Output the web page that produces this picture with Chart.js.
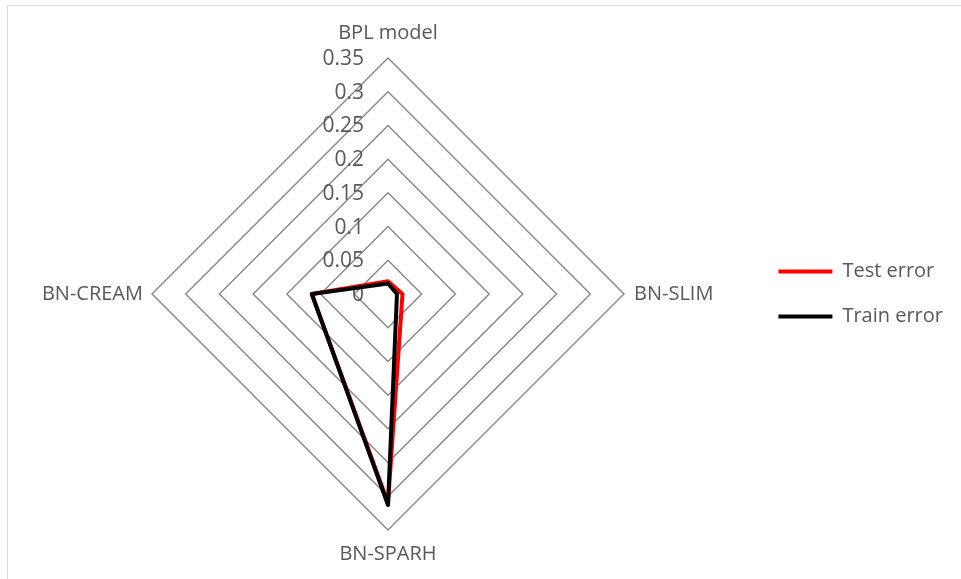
<!DOCTYPE html>
<html>
<head>
<meta charset="utf-8">
<script src="https://cdn.jsdelivr.net/npm/chart.js@4/dist/chart.umd.min.js"></script>
<style>
  html, body { margin: 0; padding: 0; background: #ffffff; }
  #wrap { position: relative; width: 961px; height: 579px; overflow: hidden; }
  #frame {
    position: absolute; left: 7px; top: 5px; right: -2px; bottom: -2px;
    border-left: 1px solid #d9d9d9; border-top: 1px solid #d9d9d9;
    pointer-events: none;
  }
  canvas { position: absolute; left: 0; top: 0; }
</style>
</head>
<body>
<div id="wrap">
  <canvas id="radar" width="961" height="579"></canvas>
  <div id="frame"></div>
</div>
<script>
// Models compared on each spoke of the radar
const categories = ['BPL model', 'BN-SLIM', 'BN-SPARH', 'BN-CREAM'];

// Error rates per model
const testError  = [0.019, 0.0215, 0.310, 0.113];
const trainError = [0.0155, 0.0133, 0.313, 0.113];

// Radial axis ticks
const tickValues = [0, 0.05, 0.1, 0.15, 0.2, 0.25, 0.3, 0.35];
const tickLabels = ['0', '0.05', '0.1', '0.15', '0.2', '0.25', '0.3', '0.35'];

const textColor = '#595959';
const family = '"Open Sans", "Noto Sans", sans-serif';

// Tick values are written just left of the vertical spoke, right aligned
const sideTickLabels = {
  id: 'sideTickLabels',
  beforeDatasetsDraw(chart) {
    const r = chart.scales.r;
    const ctx = chart.ctx;
    ctx.save();
    ctx.font = '21px ' + family;
    ctx.fillStyle = textColor;
    ctx.textAlign = 'right';
    ctx.textBaseline = 'middle';
    r.ticks.forEach((t) => {
      const y = r.yCenter - r.getDistanceFromCenterForValue(t.value);
      ctx.fillText(t.label, r.xCenter - 24, y + 1);
    });
    ctx.restore();
  }
};

new Chart(document.getElementById('radar'), {
  type: 'radar',
  data: {
    labels: categories,
    datasets: [
      {
        label: 'Test error',
        data: testError,
        borderColor: '#ff0000',
        backgroundColor: '#ff0000',
        borderWidth: 4,
        pointRadius: 0,
        fill: false,
        order: 2
      },
      {
        label: 'Train error',
        data: trainError,
        borderColor: '#000000',
        backgroundColor: '#000000',
        borderWidth: 4,
        pointRadius: 0,
        fill: false,
        order: 1
      }
    ]
  },
  options: {
    responsive: false,
    devicePixelRatio: 1,
    animation: false,
    layout: { padding: { top: 21, bottom: 12, left: 12, right: 8 } },
    elements: { line: { tension: 0, borderJoinStyle: 'round' } },
    plugins: {
      tooltip: { enabled: false },
      legend: {
        position: 'right',
        align: 'center',
        labels: {
          usePointStyle: true,
          pointStyle: 'line',
          pointStyleWidth: 54,
          padding: 25,
          color: textColor,
          font: { family: family, size: 20 },
          sort: (a, b) => a.datasetIndex - b.datasetIndex
        }
      }
    },
    scales: {
      r: {
        min: 0,
        max: 0.35,
        afterBuildTicks: (scale) => {
          scale.ticks = tickValues.map((v) => ({ value: v }));
        },
        ticks: {
          display: false,
          callback: (v, i) => tickLabels[i]
        },
        angleLines: { display: false },
        grid: { circular: false, color: '#878787', lineWidth: 1.4 },
        pointLabels: {
          color: textColor,
          font: { family: family, size: 20 },
          padding: (ctx) => [13, 10, 12, 9][ctx.index]
        }
      }
    }
  },
  plugins: [sideTickLabels]
});
</script>
</body>
</html>
